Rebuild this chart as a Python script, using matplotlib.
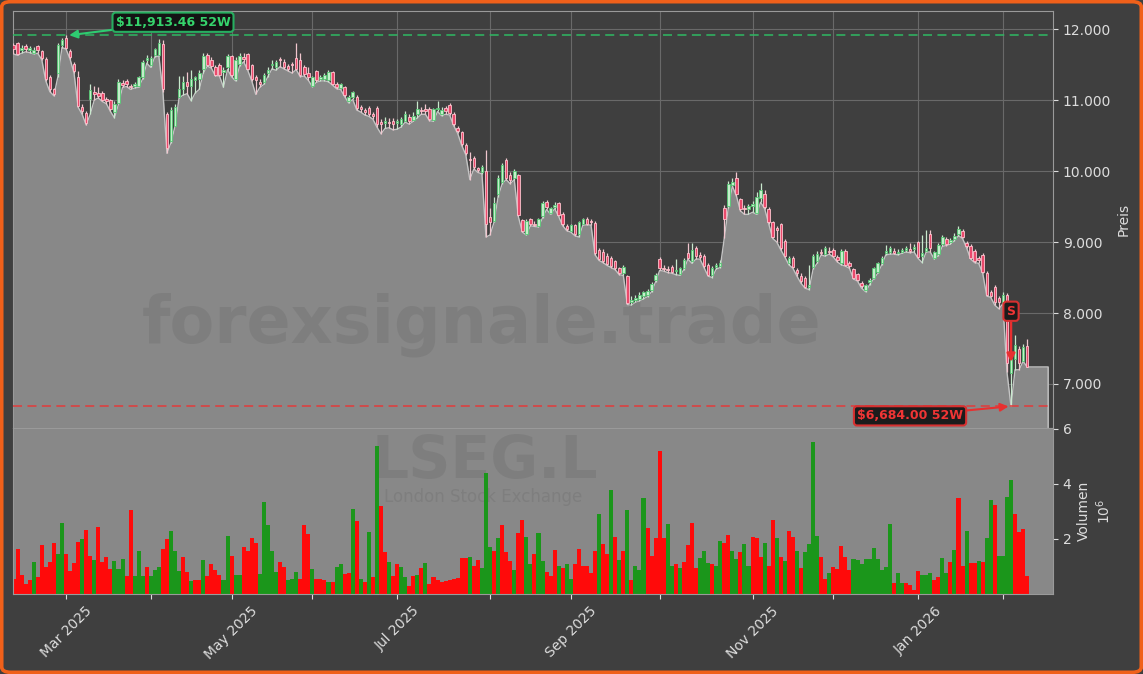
import numpy as np
import pandas as pd
import matplotlib
matplotlib.use("Agg")
import matplotlib.pyplot as plt
from matplotlib.patches import FancyBboxPatch
from matplotlib.ticker import FuncFormatter, FixedLocator
from pandas.tseries.offsets import CustomBusinessDay

# ---------------- data ----------------
start_date = "2025-02-12"
uk_holidays = ["2025-04-18", "2025-04-21", "2025-05-05", "2025-05-26",
               "2025-08-25", "2025-12-25", "2025-12-26", "2026-01-01"]

opens = [
    11780, 11800, 11700, 11760, 11700, 11660, 11760, 11690, 11580, 11320,
    11150, 11380, 11770, 11880, 11690, 11510, 11330, 10900, 10820, 11010,
    11120, 11100, 11100, 11020, 11000, 10830, 10960, 11240, 11270, 11200,
    11200, 11200, 11330, 11560, 11500, 11640, 11640, 11790, 10810, 10430,
    10640, 11040, 11150, 11250, 11200, 11280, 11300, 11440, 11640, 11560,
    11470, 11490, 11400, 11460, 11620, 11290, 11510, 11600, 11650, 11490,
    11320, 11250, 11250, 11380, 11490, 11460, 11570, 11540, 11480, 11500,
    11590, 11560, 11460, 11380, 11200, 11410, 11300, 11290, 11280, 11390,
    11220, 11170, 11180, 10980, 11050, 11050, 10900, 10860, 10890, 10800,
    10890, 10690, 10680, 10690, 10700, 10680, 10670, 10700, 10760, 10720,
    10800, 10860, 10870, 10870, 10720, 10880, 10810, 10890, 10930, 10810,
    10600, 10550, 10370, 10170, 10190, 10040, 9990, 10000, 9350, 9300,
    9670, 9850, 10160, 9950, 9900, 9940, 9310, 9120, 9320, 9260,
    9230, 9360, 9560, 9410, 9490, 9550, 9400, 9230, 9160, 9240,
    9120, 9260, 9330, 9300, 9270, 8890, 8860, 8810, 8780, 8730,
    8630, 8570, 8520, 8160, 8190, 8200, 8240, 8250, 8320, 8470,
    8760, 8640, 8620, 8650, 8590, 8550, 8640, 8840, 8730, 8910,
    8820, 8810, 8680, 8530, 8650, 8660, 9480, 9510, 9810, 9900,
    9600, 9480, 9470, 9510, 9410, 9620, 9680, 9470, 9280, 9200,
    9250, 9020, 8710, 8780, 8610, 8520, 8500, 8370, 8650, 8730,
    8860, 8830, 8880, 8890, 8790, 8700, 8880, 8700, 8620, 8550,
    8420, 8320, 8430, 8500, 8580, 8700, 8840, 8860, 8880, 8840,
    8860, 8890, 8900, 8900, 9000, 8800, 8880, 9120, 8780, 8830,
    8970, 9040, 9000, 9040, 9110, 9150, 8990, 8950, 8880, 8780,
    8820, 8570, 8290, 8370, 8210, 8160, 8250, 7150, 7350, 7500,
    7330, 7530,
]
highs = [
    11800, 11820, 11770, 11790, 11760, 11750, 11780, 11700, 11600, 11350,
    11170, 11800, 11870, 11913.46, 11720, 11530, 11410, 10950, 10840, 11220,
    11200, 11180, 11130, 11050, 11020, 10980, 11290, 11280, 11300, 11230,
    11250, 11340, 11570, 11640, 11620, 11740, 11860, 11850, 10830, 10900,
    10940, 11340, 11340, 11390, 11430, 11340, 11430, 11660, 11660, 11600,
    11500, 11520, 11470, 11650, 11640, 11600, 11660, 11660, 11670, 11510,
    11360, 11290, 11380, 11470, 11560, 11560, 11600, 11580, 11510, 11540,
    11800, 11670, 11500, 11460, 11340, 11430, 11360, 11380, 11430, 11410,
    11250, 11240, 11200, 11070, 11130, 11070, 10930, 10890, 10910, 10830,
    10910, 10740, 10760, 10750, 10750, 10740, 10760, 10850, 10800, 10830,
    10990, 10900, 10950, 10900, 10890, 10980, 10900, 10920, 10960, 10830,
    10630, 10570, 10390, 10270, 10210, 10060, 10080, 10290, 9480, 9640,
    9950, 10110, 10180, 9990, 10030, 9960, 9330, 9330, 9340, 9290,
    9340, 9580, 9590, 9500, 9560, 9570, 9420, 9250, 9260, 9260,
    9300, 9340, 9350, 9330, 9290, 8910, 8900, 8840, 8800, 8750,
    8650, 8680, 8540, 8240, 8260, 8290, 8310, 8340, 8440, 8560,
    8790, 8680, 8660, 8670, 8760, 8650, 8770, 8990, 8990, 8940,
    8860, 8830, 8700, 8660, 8710, 8750, 9520, 9860, 9900, 9980,
    9620, 9520, 9540, 9580, 9700, 9830, 9740, 9490, 9300, 9230,
    9270, 9040, 8800, 8800, 8640, 8560, 8520, 8680, 8830, 8880,
    8900, 8940, 8930, 8920, 8820, 8900, 8900, 8730, 8640, 8570,
    8450, 8410, 8500, 8650, 8720, 8800, 8960, 8950, 8920, 8900,
    8920, 8950, 8990, 8970, 9020, 9100, 9170, 9170, 8880, 8990,
    9100, 9070, 9060, 9130, 9230, 9180, 9020, 8970, 8900, 8800,
    8840, 8590, 8320, 8390, 8240, 8290, 8280, 7400, 7690, 7540,
    7560, 7640,
]
lows = [
    11650, 11630, 11660, 11680, 11670, 11650, 11660, 11570, 11270, 11120,
    11060, 11330, 11740, 11720, 11580, 11380, 10900, 10800, 10650, 10800,
    11000, 11030, 10980, 10950, 10840, 10750, 10940, 11180, 11190, 11150,
    11170, 11180, 11300, 11520, 11460, 11610, 11620, 11120, 10250, 10400,
    10630, 11030, 11070, 11090, 10990, 11100, 11150, 11380, 11480, 11450,
    11340, 11340, 11180, 11430, 11330, 11270, 11480, 11540, 11420, 11270,
    11080, 11180, 11220, 11330, 11440, 11420, 11470, 11440, 11410, 11380,
    11430, 11330, 11340, 11280, 11190, 11250, 11270, 11270, 11260, 11210,
    11160, 11150, 11050, 10960, 11010, 10860, 10830, 10790, 10770, 10730,
    10620, 10525, 10600, 10610, 10580, 10590, 10620, 10690, 10660, 10700,
    10750, 10800, 10800, 10710, 10700, 10840, 10780, 10800, 10790, 10640,
    10530, 10360, 10230, 9880, 10030, 9980, 9960, 9070, 9100, 9280,
    9640, 9820, 9880, 9820, 9880, 9360, 9140, 9100, 9230, 9220,
    9210, 9340, 9460, 9390, 9470, 9360, 9230, 9160, 9140, 9090,
    9070, 9240, 9240, 9240, 8820, 8740, 8710, 8670, 8640, 8610,
    8540, 8530, 8120, 8110, 8150, 8170, 8200, 8230, 8300, 8440,
    8600, 8590, 8570, 8560, 8540, 8530, 8610, 8760, 8700, 8760,
    8760, 8640, 8520, 8500, 8620, 8640, 9050, 9480, 9790, 9650,
    9440, 9390, 9390, 9420, 9390, 9560, 9470, 9260, 9050, 9000,
    8890, 8790, 8680, 8630, 8520, 8420, 8350, 8330, 8620, 8700,
    8820, 8800, 8830, 8790, 8720, 8680, 8660, 8630, 8480, 8450,
    8350, 8300, 8400, 8480, 8560, 8680, 8820, 8830, 8830, 8820,
    8840, 8860, 8850, 8860, 8770, 8710, 8860, 8860, 8760, 8810,
    8940, 8950, 8970, 9020, 9090, 9050, 8920, 8760, 8710, 8700,
    8560, 8240, 8220, 8110, 8060, 8130, 7170, 6684, 7200, 7200,
    7320, 7240,
]
closes = [
    11720, 11650, 11740, 11720, 11730, 11700, 11700, 11590, 11290, 11150,
    11090, 11770, 11840, 11740, 11610, 11410, 10920, 10850, 10680, 11140,
    11080, 11060, 11000, 10990, 10870, 10950, 11260, 11210, 11220, 11180,
    11220, 11320, 11540, 11590, 11590, 11720, 11810, 11150, 10320, 10860,
    10900, 11150, 11250, 11200, 11300, 11320, 11380, 11620, 11500, 11480,
    11360, 11360, 11420, 11620, 11360, 11570, 11620, 11580, 11440, 11290,
    11280, 11230, 11360, 11430, 11510, 11530, 11560, 11460, 11440, 11490,
    11440, 11360, 11370, 11330, 11320, 11280, 11330, 11360, 11400, 11230,
    11190, 11220, 11070, 11050, 11110, 10890, 10870, 10830, 10810, 10770,
    10660, 10660, 10700, 10680, 10660, 10700, 10730, 10800, 10700, 10770,
    10870, 10850, 10850, 10730, 10870, 10890, 10860, 10840, 10820, 10660,
    10560, 10380, 10250, 10150, 10060, 10010, 10060, 9250, 9280, 9550,
    9900, 10090, 9900, 9870, 10000, 9380, 9160, 9300, 9260, 9240,
    9320, 9550, 9490, 9480, 9520, 9380, 9250, 9180, 9240, 9110,
    9280, 9320, 9260, 9280, 8840, 8760, 8730, 8690, 8660, 8630,
    8560, 8650, 8140, 8180, 8210, 8260, 8290, 8310, 8410, 8530,
    8630, 8620, 8600, 8580, 8610, 8630, 8740, 8780, 8890, 8810,
    8790, 8660, 8540, 8640, 8680, 8710, 9330, 9820, 9850, 9670,
    9460, 9460, 9510, 9530, 9640, 9740, 9490, 9280, 9070, 9170,
    8920, 8810, 8780, 8650, 8560, 8450, 8370, 8400, 8800, 8830,
    8840, 8910, 8860, 8810, 8740, 8880, 8680, 8660, 8500, 8470,
    8380, 8390, 8470, 8630, 8700, 8780, 8880, 8910, 8850, 8860,
    8890, 8910, 8880, 8930, 8790, 8850, 8920, 8910, 8860, 8960,
    9070, 8970, 9030, 9090, 9190, 9070, 8940, 8780, 8730, 8740,
    8580, 8260, 8240, 8160, 8160, 8250, 7300, 7350, 7550, 7300,
    7520, 7240,
]
# volume in millions of shares
volume_m = [
    0.56, 1.64, 0.70, 0.36, 0.50, 1.17, 0.63, 1.78, 0.97, 1.17,
    1.84, 1.44, 2.58, 1.44, 0.83, 1.13, 1.88, 1.98, 2.31, 1.37,
    1.24, 2.42, 1.17, 1.34, 0.90, 1.21, 0.90, 1.28, 0.67, 3.05,
    0.67, 1.55, 0.67, 0.97, 0.67, 0.87, 0.97, 1.64, 1.98, 2.29,
    1.55, 0.83, 1.34, 0.81, 0.47, 0.52, 0.52, 1.24, 0.67, 1.08,
    0.87, 0.70,
    0.50, 2.11, 1.37, 0.70, 0.70, 1.71, 1.57, 2.02, 1.84, 0.74,
    3.36, 2.52, 1.55, 0.81, 1.17, 0.97, 0.50, 0.54, 0.81, 0.56,
    2.52, 2.18, 0.90, 0.56, 0.54, 0.50, 0.43, 0.43, 0.97, 1.08,
    0.74, 0.77, 3.10, 2.65, 0.56, 0.43, 2.25, 0.63, 5.38, 3.19,
    1.53, 1.17, 0.67, 1.10, 0.97, 0.63, 0.29, 0.67, 0.70, 0.94,
    1.13, 0.36, 0.63, 0.50, 0.43, 0.46, 0.50, 0.56, 0.59, 1.30,
    1.30, 1.34, 1.03, 1.24, 0.94, 4.40, 1.71, 1.55, 2.04, 2.52,
    1.51, 1.21, 0.87, 2.22, 2.69, 2.08, 1.08, 1.44, 2.22, 1.21,
    0.81, 0.67, 1.60, 1.03, 0.94, 1.10, 0.56, 1.10, 1.64, 1.03,
    1.03, 0.77, 1.55, 2.89, 1.80, 1.44, 3.77, 2.08, 1.24, 1.55,
    3.05,
    0.50, 1.00, 0.87, 3.50, 2.38, 1.37, 2.04, 5.18, 2.02, 2.56,
    1.00, 1.10, 0.93, 1.17, 1.78, 2.58, 0.93, 1.30, 1.55, 1.13,
    1.08, 1.00, 1.94, 1.87, 2.15, 1.55, 1.26, 1.51, 1.82, 1.00,
    2.07, 2.04, 1.34, 1.87, 1.03, 2.69, 2.04, 1.33, 1.21, 2.29,
    2.08, 1.55, 0.93, 1.51, 1.80, 5.51, 2.11, 1.33, 0.54, 0.77,
    0.97,
    0.90, 1.75, 1.34, 0.87, 1.28, 1.24, 1.10, 1.28, 1.28, 1.68,
    1.28, 0.87, 0.97, 2.56, 0.40, 0.77, 0.40, 0.40, 0.33, 0.16,
    0.83, 0.70, 0.70, 0.77, 0.50, 0.63, 1.30, 0.77, 1.17, 1.61,
    3.50, 1.03, 2.29, 1.13, 1.13, 1.20, 1.17, 2.02, 3.43, 3.23,
    1.37, 1.37, 3.53, 4.13, 2.92, 2.25, 2.35, 0.67,
]
# volume bar direction: g = up day, r = down day
volume_dir = (
    "rrrrrgrrrrrggrrrrgrrgrrrrgggrrgggrgggrrgggrrgrrgrrrr"
    "ggrggrrrrgggggrrgggrrrgrrrgrggrrgrgrgrgrrgrrggr"
    "rgrgrrrrrrrrrrgrrgggrgrrrgrrggrggrrrgrggrrrrrrgrrgr"
    "grgrgggrrrrrggrgrrrrgggrggrrggrggrrrgrrgrgrrgrggggr"
    "rgrrrrrggggggggggrggrrrrgggrrggrgrrgrrgrggrggggr"
)
high_52w = 11913.46
low_52w = 6684.00
signal_text = "S"
ticker = "LSEG.L"
exchange = "London Stock Exchange"
watermark = "forexsignale.trade"

# ---------------- derived ----------------
n = len(closes)
dates = pd.date_range(start_date, periods=n, freq=CustomBusinessDay(holidays=uk_holidays))
x = np.arange(n)
o = np.array(opens, float); h = np.array(highs, float)
l = np.array(lows, float); c = np.array(closes, float)
vol = np.array(volume_m[:n], float)
vdir = (volume_dir + "r" * n)[:n]

month_idx = [i for i in range(1, n) if dates[i].month != dates[i - 1].month]
month_lbl = [dates[i].strftime("%b %Y") if dates[i].month % 2 == 1 else "" for i in month_idx]

i_high = int(np.argmax(h))
i_low = int(np.argmin(l))

# ---------------- style ----------------
BG = "#3f3f3f"
FILL = "#888888"
TXT = "#dddddd"
SPINE = "#9a9a9a"
UP_BODY, UP_EDGE, UP_WICK = "#c4eecb", "#55c873", "#c8e8cd"
DN_BODY, DN_EDGE, DN_WICK = "#ea4a6c", "#ffc4cf", "#f0c6ce"
VOL_UP, VOL_DN = "#1b961b", "#ff0a0a"

W, H = 1143, 674
fig = plt.figure(figsize=(W / 100, H / 100), dpi=100)
fig.patch.set_facecolor(BG)

left, right = 13, 1053
p_top, p_bot, v_bot = 11, 428, 594
ax = fig.add_axes([left / W, 1 - p_bot / H, (right - left) / W, (p_bot - p_top) / H])
axv = fig.add_axes([left / W, 1 - v_bot / H, (right - left) / W, (v_bot - p_bot) / H], sharex=ax)

y_min, y_max = 6380, 12255
ax.set_facecolor(BG)
ax.set_xlim(-0.12, 257.4)
ax.set_ylim(y_min, y_max)

ax.set_axisbelow(True)
ax.grid(True, color="#696969", lw=0.8)

# area under lows, extended flat after the last bar
pad = 5.2
fx = np.r_[x, x[-1] + pad]
fy = np.r_[l, c[-1]]
ax.fill_between(fx, fy, y_min, color=FILL, zorder=1.5, lw=0)
ax.plot(np.r_[fx, fx[-1]], np.r_[fy, y_min], color="#c4c4c4", lw=1.0, zorder=1.6)

ax.text(0.451, 0.247, watermark, transform=ax.transAxes, ha="center", va="center",
        fontsize=47, fontweight="bold", color="#000000", alpha=0.07, zorder=1.7)

# candles
up = c >= o
wick_cols = np.where(up, UP_WICK, DN_WICK)
ax.vlines(x, l, h, colors=wick_cols, lw=0.9, zorder=3)
body_h = np.maximum(np.abs(c - o), 12)
ax.bar(x, body_h, bottom=np.minimum(o, c), width=0.62,
       color=np.where(up, UP_BODY, DN_BODY), edgecolor=np.where(up, UP_EDGE, DN_EDGE),
       linewidth=0.6, zorder=4)

# 52 week lines
ax.axhline(high_52w, color="#2fb863", ls=(0, (5, 3)), lw=1.3, alpha=0.85, zorder=5)
ax.axhline(low_52w, color="#e23b3b", ls=(0, (5, 3)), lw=1.3, alpha=0.85, zorder=5)

ax.annotate(f"${high_52w:,.2f} 52W", xy=(i_high + 0.8, high_52w), xytext=(39.5, 12097),
            ha="center", va="center", fontsize=9, fontweight="bold", color="#35d46c",
            bbox=dict(boxstyle="round,pad=0.25", fc="#141414", ec="#27ae60", lw=1.5),
            arrowprops=dict(arrowstyle="-|>", color="#2ecc71", lw=1.5, shrinkA=0, shrinkB=0,
                            mutation_scale=12),
            zorder=10)
ax.annotate(f"${low_52w:,.2f} 52W", xy=(i_low - 0.6, low_52w), xytext=(222, 6551),
            ha="center", va="center", fontsize=9, fontweight="bold", color="#f03535",
            bbox=dict(boxstyle="round,pad=0.25", fc="#1c1c1c", ec="#d63030", lw=1.5),
            arrowprops=dict(arrowstyle="-|>", color="#e83030", lw=1.5, shrinkA=0, shrinkB=0,
                            mutation_scale=12),
            zorder=10)
ax.annotate(signal_text, xy=(i_low, 7310), xytext=(i_low, 8025),
            ha="center", va="center", fontsize=9, fontweight="bold", color="#f03535",
            bbox=dict(boxstyle="round,pad=0.25", fc="#1c1c1c", ec="#d63030", lw=1.5),
            arrowprops=dict(arrowstyle="-|>", color="#e83030", lw=1.8, shrinkA=0, shrinkB=0,
                            mutation_scale=12),
            zorder=10)

# price axis
ax.yaxis.tick_right()
ax.yaxis.set_label_position("right")
ax.yaxis.set_major_locator(FixedLocator([7000, 8000, 9000, 10000, 11000, 12000]))
ax.yaxis.set_major_formatter(FuncFormatter(lambda v, p: f"{int(round(v)):,}".replace(",", ".")))
ax.set_ylabel("Preis", color=TXT, fontsize=10)
ax.tick_params(axis="y", colors=TXT, labelsize=10, length=3.5)
ax.tick_params(axis="x", length=0, labelbottom=False)
for s in ax.spines.values():
    s.set_color(SPINE); s.set_linewidth(0.8)

# volume
axv.set_facecolor(FILL)
axv.text(0.454, 0.80, ticker, transform=axv.transAxes, ha="center", va="center",
         fontsize=42, fontweight="bold", color="#000000", alpha=0.07, zorder=0.5)
axv.text(0.452, 0.585, exchange, transform=axv.transAxes, ha="center", va="center",
         fontsize=12, color="#000000", alpha=0.07, zorder=0.5)
axv.bar(x, vol, width=1.0, color=[VOL_UP if d == "g" else VOL_DN for d in vdir],
        linewidth=0, zorder=2)
axv.set_ylim(0, 6.03)
axv.yaxis.tick_right()
axv.yaxis.set_label_position("right")
axv.yaxis.set_major_locator(FixedLocator([2, 4, 6]))
axv.yaxis.set_major_formatter(FuncFormatter(lambda v, p: f"{int(v)}"))
axv.set_ylabel("Volumen\n$10^{6}$", color=TXT, fontsize=10, multialignment="center")
axv.set_xticks(month_idx)
axv.set_xticklabels(month_lbl, rotation=45, ha="center")
axv.tick_params(axis="both", colors=TXT, labelsize=10, length=3.5)
axv.grid(False)
for s in axv.spines.values():
    s.set_color(SPINE); s.set_linewidth(0.8)

# orange frame
fig.patches.append(FancyBboxPatch((0.0015, 0.0025), 0.997, 0.995,
                                  boxstyle="round,pad=0,rounding_size=0.008",
                                  transform=fig.transFigure, fc="none", ec="#f0601a", lw=2.6))

fig.savefig("out.png", dpi=100, facecolor=fig.get_facecolor())
